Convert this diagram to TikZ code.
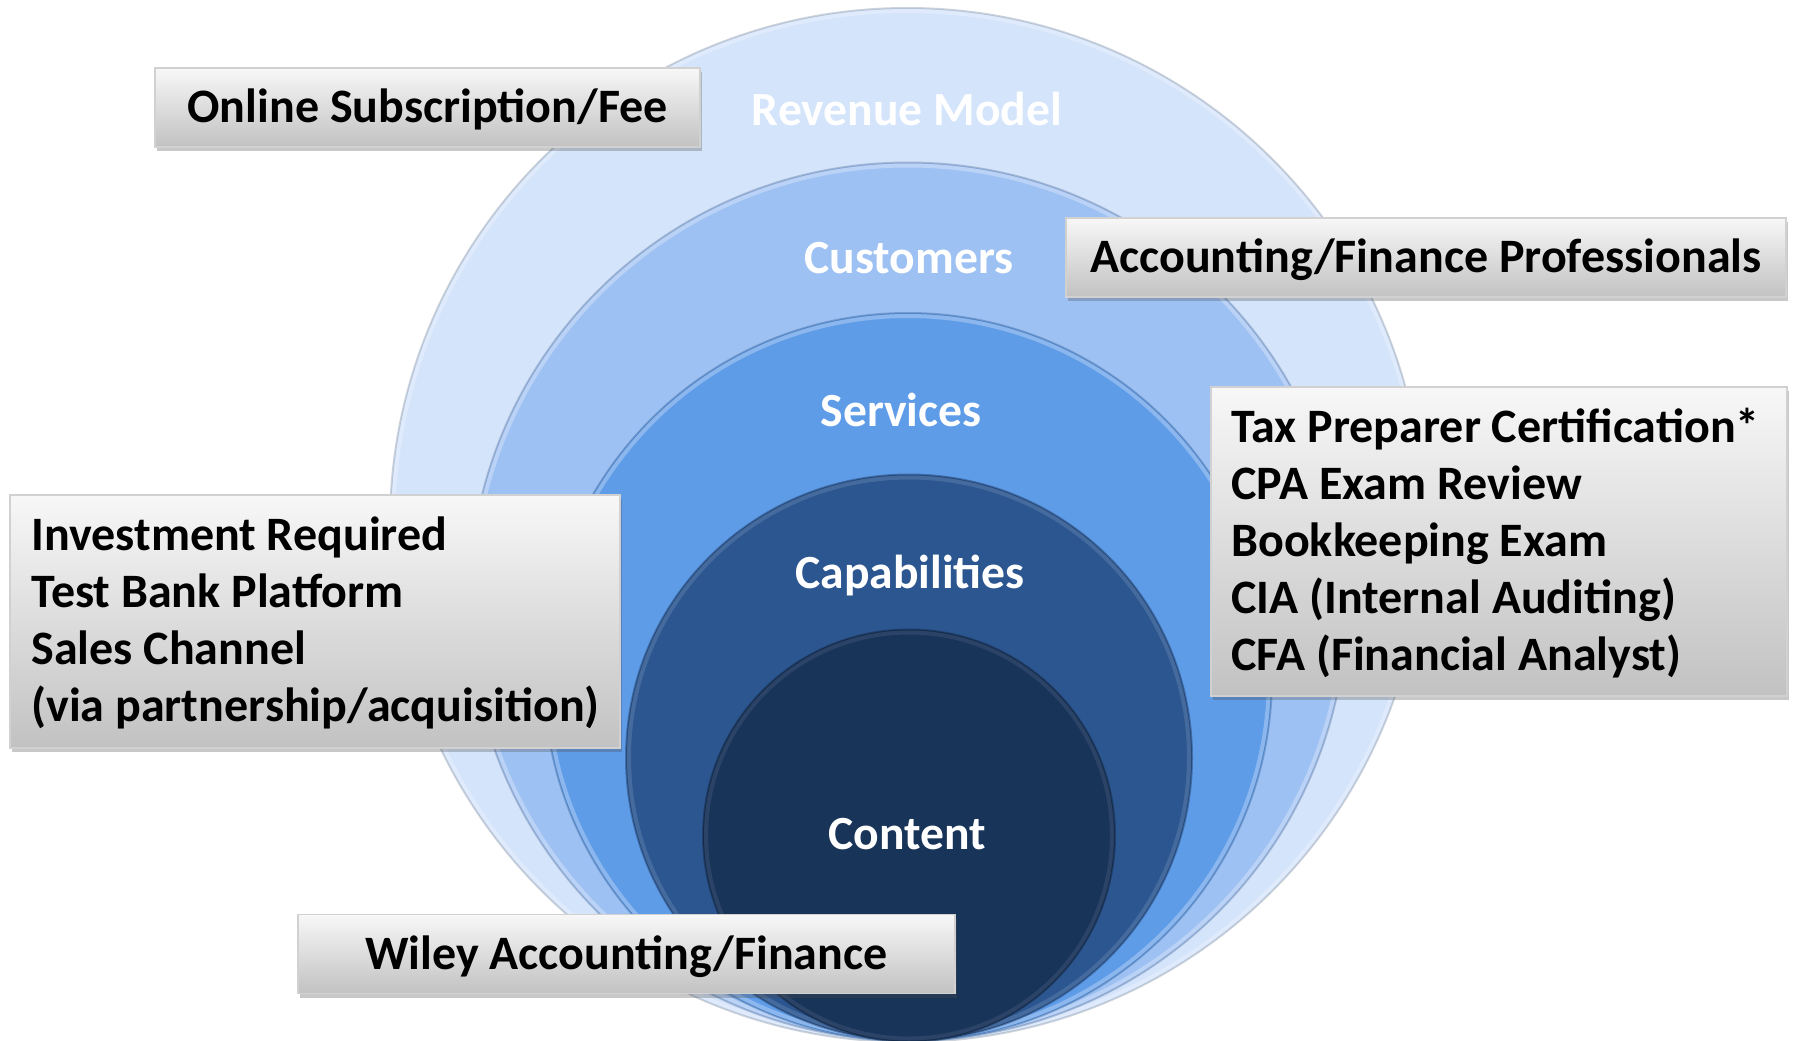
\documentclass[tikz,border=0pt]{standalone}
\usepackage{fontspec}
\setmainfont{Carlito}
\usetikzlibrary{shadows}
\definecolor{ringA}{HTML}{D4E4FB}
\definecolor{ringB}{HTML}{9EC1F3}
\definecolor{ringC}{HTML}{5F9CE8}
\definecolor{ringD}{HTML}{2C5690}
\definecolor{ringE}{HTML}{193459}
\tikzset{
  ring/.style={fill=#1, draw=#1!70!black, draw opacity=0.45, line width=1pt},
  glow/.style={draw=white, draw opacity=0.28, line width=2pt},
  ringlabel/.style={text=white, font=\bfseries\fontsize{23.8}{28}\selectfont, anchor=base, inner sep=0pt},
  infobox/.style={draw=black!18, line width=0.7pt, top color=black!3, bottom color=black!24,
    drop shadow={shadow xshift=1.2pt, shadow yshift=-2pt, opacity=0.3, fill=black!70},
    inner sep=0pt, font=\bfseries\fontsize{24}{28}\selectfont, text height=15pt, text depth=0pt},
  boxline/.style={font=\bfseries\fontsize{24}{28}\selectfont, anchor=base west, inner sep=0pt},
}
\begin{document}
\begin{tikzpicture}[x=0.5pt,y=-0.5pt]
\useasboundingbox (0,0) rectangle (1800,1040);
\fill[white] (0,0) rectangle (1800,1040);
% nested circles, tangent at the bottom
\path[ring=ringA] (907,525) circle[radius=258.5pt];
\path[glow] (907,525) circle[radius=257pt];
\path[ring=ringB] (908,601.5) circle[radius=219.5pt];
\path[glow] (908,601.5) circle[radius=218pt];
\path[ring=ringC] (908,677) circle[radius=182pt];
\path[glow] (908,677) circle[radius=180.5pt];
\path[ring=ringD] (909,757.5) circle[radius=141.5pt];
\path[glow,draw opacity=0.12] (909,757.5) circle[radius=140pt];
\path[ring=ringE] (909,835.5) circle[radius=103pt];
\path[glow,draw opacity=0.08] (909,835.5) circle[radius=101.5pt];
% circle labels
\node[ringlabel] (lrev) at (907,125) {Revenue Model};
\node[ringlabel] (lcus) at (909,273) {Customers};
\node[ringlabel] (lser) at (901,426) {Services};
\node[ringlabel] (lcap) at (910,588) {Capabilities};
\node[ringlabel] (lcon) at (907,849) {Content};
% single-line boxes
\node[infobox, minimum width=272.5pt, minimum height=39.5pt] (osf) at (427.5,107.5) {Online Subscription/Fee};
\node[infobox, minimum width=360pt, minimum height=39.5pt] (afp) at (1426,257.5) {Accounting/Finance Professionals};
\node[infobox, minimum width=328.5pt, minimum height=39.5pt] (wiley) at (626.5,954) {Wiley Accounting/Finance};
% multi-line boxes
\node[infobox, minimum width=288pt, minimum height=154.5pt] (svcbox) at (1499,541.5) {};
\node[boxline] (s1) at (1231,442) {Tax Preparer Certification*};
\node[boxline] (s2) at (1231,499) {CPA Exam Review};
\node[boxline] (s3) at (1231,556) {Bookkeeping Exam};
\node[boxline] (s4) at (1231,613) {CIA (Internal Auditing)};
\node[boxline] (s5) at (1231,670) {CFA (Financial Analyst)};
\node[infobox, minimum width=305pt, minimum height=126.5pt] (capbox) at (315,621.5) {};
\node[boxline] (c1) at (31,550) {Investment Required};
\node[boxline] (c2) at (31,607) {Test Bank Platform};
\node[boxline] (c3) at (31,664) {Sales Channel};
\node[boxline] (c4) at (31,721) {(via partnership/acquisition)};
\end{tikzpicture}
\end{document}
